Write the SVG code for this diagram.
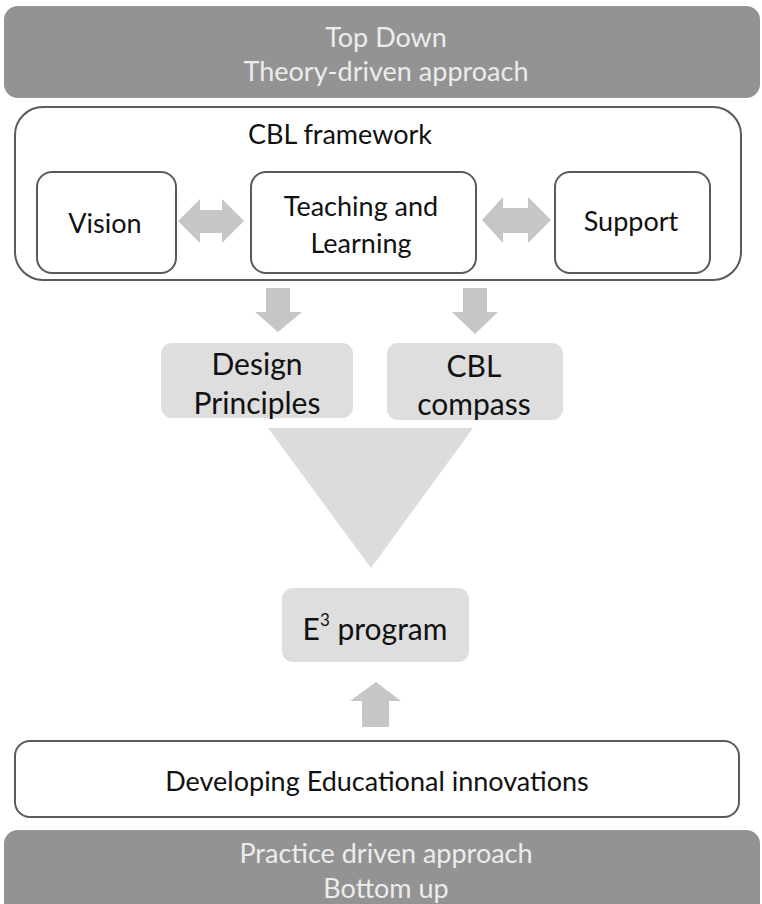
<svg xmlns="http://www.w3.org/2000/svg" width="762" height="904" viewBox="0 0 762 904">
<style>
.banner{fill:#939393;}
.btxt{fill:#ececec;font-family:Lato,"Liberation Sans",sans-serif;font-size:27px;text-anchor:middle;dominant-baseline:central;}
.box{fill:#ffffff;stroke:#5a5a5a;stroke-width:2;}
.lbox{fill:#dedede;}
.txt{fill:#111111;font-family:Lato,"Liberation Sans",sans-serif;font-size:27px;text-anchor:middle;dominant-baseline:central;}
.gtxt{fill:#111111;font-family:Lato,"Liberation Sans",sans-serif;font-size:30px;text-anchor:middle;dominant-baseline:central;}
.arrow{fill:#c6c6c6;}
</style>
<rect width="762" height="904" fill="#ffffff"/>
<g id="top-banner">
<rect class="banner" x="4" y="6" width="756" height="92" rx="14"/>
<text class="btxt" x="386" y="36">Top Down</text>
<text class="btxt" x="386" y="70">Theory-driven approach</text>
</g>
<g id="cbl-framework">
<rect class="box" x="15" y="107" width="726" height="173" rx="28"/>
<text class="txt" x="340" y="133">CBL framework</text>
</g>
<g id="vision">
<rect class="box" x="37" y="172" width="139" height="101" rx="15"/>
<text class="txt" x="105" y="222">Vision</text>
</g>
<g id="teaching-learning">
<rect class="box" x="251" y="172" width="225" height="101" rx="15"/>
<text class="txt" x="361" y="205">Teaching and</text>
<text class="txt" x="361" y="242">Learning</text>
</g>
<g id="support">
<rect class="box" x="555" y="172" width="155" height="101" rx="15"/>
<text class="txt" x="631" y="220">Support</text>
</g>
<g id="design-principles">
<rect class="lbox" x="161" y="343" width="192" height="75" rx="11"/>
<text class="gtxt" x="257" y="363">Design</text>
<text class="gtxt" x="257" y="402">Principles</text>
</g>
<g id="cbl-compass">
<rect class="lbox" x="387" y="343" width="176" height="77" rx="11"/>
<text class="gtxt" x="474" y="365">CBL</text>
<text class="gtxt" x="474" y="403">compass</text>
</g>
<g id="funnel">
<polygon fill="#dcdcdc" points="268,428 473,428 371,568"/>
</g>
<g id="e3-program">
<rect class="lbox" x="282" y="588" width="187" height="74" rx="11"/>
<text class="gtxt" x="375" y="628">E<tspan font-size="17" dy="-9">3</tspan><tspan dy="9"> program</tspan></text>
</g>
<g id="developing">
<rect class="box" x="15" y="741" width="724" height="76" rx="15"/>
<text class="txt" x="377" y="780">Developing Educational innovations</text>
</g>
<g id="bottom-banner">
<rect class="banner" x="4" y="830" width="756" height="90" rx="14"/>
<text class="btxt" x="386" y="852">Practice driven approach</text>
<text class="btxt" x="386" y="887">Bottom up</text>
</g>
<g id="connectors">
<path class="arrow" d="M178,221 L200,199 L200,210 L222,210 L222,199 L244,221 L222,243 L222,233 L200,233 L200,243 Z"/>
<path class="arrow" d="M482,220 L503,197 L503,208 L528,208 L528,197 L551,220 L528,243 L528,233 L503,233 L503,243 Z"/>
<path class="arrow" d="M266,288 L290,288 L290,312 L302,312 L278,332 L255,312 L266,312 Z"/>
<path class="arrow" d="M463,288 L487,288 L487,312 L498,312 L475,334 L452,312 L463,312 Z"/>
<path class="arrow" d="M376,682 L401,701 L389,701 L389,727 L362,727 L362,701 L350,701 Z"/>
</g>
</svg>
